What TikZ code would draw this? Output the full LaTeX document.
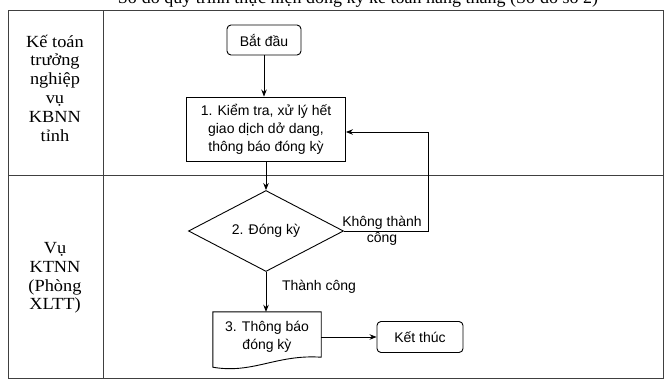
\documentclass[tikz,border=0pt]{standalone}
\usepackage{fontspec}
\setmainfont{Liberation Serif}
\newfontfamily\arialf{Liberation Sans}
\newfontfamily\lanef[FakeStretch=1.08]{Liberation Serif}
\usetikzlibrary{shapes.geometric,arrows.meta,calc}
\begin{document}
\begin{tikzpicture}[x=1pt,y=-1pt,
  every node/.style={font=\arialf\fontsize{14}{18}\selectfont, align=center},
  proc/.style={draw, line width=0.9pt, inner sep=2pt},
  term/.style={draw, rounded corners=4pt, line width=0.9pt},
  dec/.style={draw, diamond, line width=0.9pt, aspect=1.91, minimum width=155, minimum height=81, inner sep=0pt},
  arr/.style={line width=0.9pt, -{Stealth[length=7pt,width=5.5pt]}},
  lane/.style={draw=black!75, line width=0.9pt},
  lanetxt/.style={font=\lanef\fontsize{17}{18.8}\selectfont, align=center},
  lbl/.style={font=\arialf\fontsize{14}{16}\selectfont, align=center, inner sep=0pt}
]
\useasboundingbox (0,0) rectangle (664,380);
% title (cut off at top)
\node[font=\fontsize{18}{20}\selectfont, anchor=base, inner sep=0pt] (title) at (358,4) {Sơ đồ quy trình thực hiện đóng kỳ kế toán hàng tháng (Sơ đồ số 2)};
% swimlane frame
\draw[lane] (8,10) rectangle (663,378);
\draw[lane] (103,10) -- (103,378);
\draw[lane] (8,175) -- (663,175);
% lane labels
\node[lanetxt] (l1) at (55,88) {Kế toán\\trưởng\\nghiệp\\vụ\\KBNN\\tỉnh};
\node[lanetxt] (l2) at (55,278) {Vụ\\KTNN\\(Phòng\\XLTT)};
% flow nodes
\node[term, minimum width=74, minimum height=30] (start) at (264,40) {Bắt đầu};
\node[proc, minimum width=159, minimum height=64] (s1) at (266,129) {1. Kiểm tra, xử lý hết\\giao dịch dở dang,\\thông báo đóng kỳ};
\node[dec] (dia) at (266,231) {2. Đóng kỳ};
\node[minimum width=108, minimum height=50, inner sep=2pt] (doc) at (267,337) {3. Thông báo\\đóng kỳ};
\draw[line width=0.9pt] ($(doc.south west)+(0,5)$) -- (doc.north west) -- (doc.north east) -- ($(doc.south east)+(0,-5)$)
  .. controls ($(doc.south east)+(-45,-8)$) and ($(doc.south west)+(40,12)$) .. ($(doc.south west)+(0,5)$) -- cycle;
\node[term, minimum width=86, minimum height=31] (end) at (420,337) {Kết thúc};
% labels
\node[lbl] (ko) at (382,231) {Không thành\\công};
\node[lbl] (tc) at (319,287) {Thành công};
% connectors
\draw[arr] (start.south) -- (start.south |- s1.north);
\draw[arr] (s1.south) -- (s1.south |- dia.north);
\draw[arr] (dia.south) -- (dia.south |- doc.north);
\draw[arr] (doc.east) -- (end.west);
\coordinate (fb) at (428,132);
\draw[arr] (dia.east) -| (fb) -- (s1.east |- fb);
\end{tikzpicture}
\end{document}
